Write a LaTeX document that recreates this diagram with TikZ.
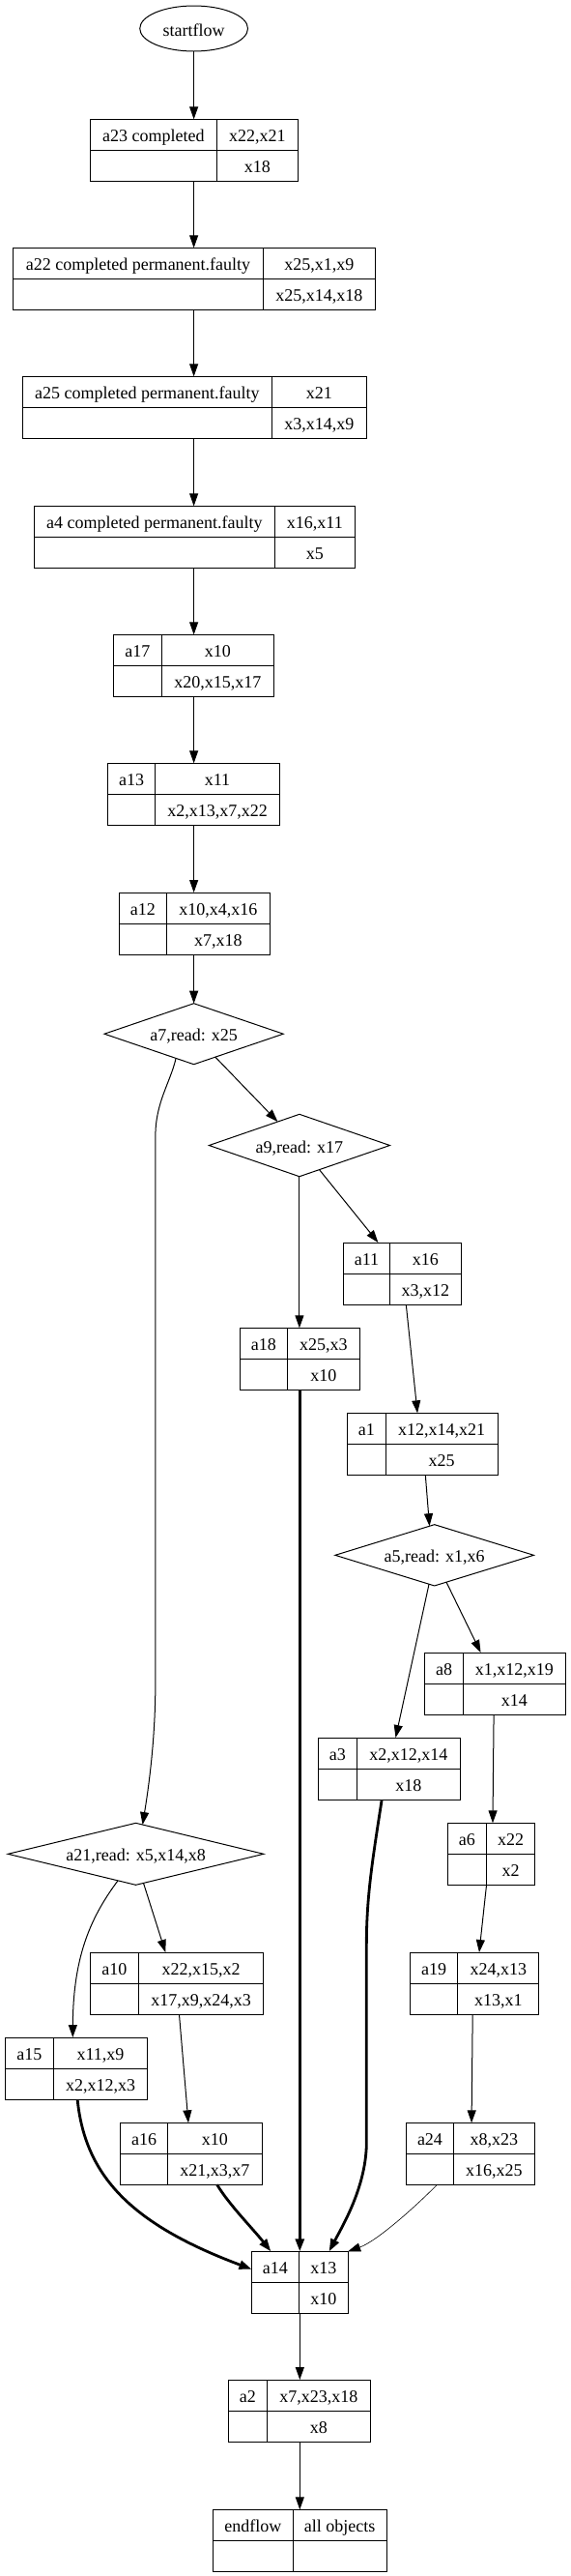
\documentclass[tikz,border=0pt]{standalone}
\usepackage{fontspec}
\setmainfont{Liberation Serif}
\usetikzlibrary{shapes.geometric,arrows.meta,calc}
\tikzset{
  recbox/.style={draw, line width=1pt, inner sep=0pt, outer sep=0pt},
  recline/.style={line width=1pt},
  txtfont/.style={font=\fontsize{18}{21}\selectfont, text height=15pt, text depth=0pt},
  celltext/.style={inner sep=0pt, txtfont},
  decision/.style={draw, diamond, line width=1pt, inner sep=0pt, outer sep=0pt, txtfont},
  terminal/.style={draw, ellipse, line width=1pt, inner sep=0pt, outer sep=0pt, txtfont},
  flowedge/.style={line width=1pt, -{Triangle[length=13pt,width=9pt]}},
  boldedge/.style={flowedge, line width=2.8pt},
  thinedge/.style={flowedge, line width=0.6pt}
}
% #1 name, #2 left, #3 right, #4 divider x, #5 top, #6 bottom, #7 tl, #8 tr, #9 br
\newcommand{\recnode}[9]{%
  \node[recbox, minimum width={((#3)-(#2))*1.129}, minimum height={(#6)-(#5)}] (#1) at ({((#2)+(#3))/2},{((#5)+(#6))/2}) {};
  \draw[recline] (#4,#5) -- (#4,#6);
  \draw[recline] (#2,{((#5)+(#6))/2}) -- (#3,{((#5)+(#6))/2});
  \node[celltext] (#1-tl) at ({((#2)+(#4))/2},{(3*(#5)+(#6))/4}) {#7};
  \node[celltext] (#1-tr) at ({((#4)+(#3))/2},{(3*(#5)+(#6))/4}) {#8};
  \node[celltext] (#1-br) at ({((#4)+(#3))/2},{((#5)+3*(#6))/4}) {#9};
}
\begin{document}
\begin{tikzpicture}[x=1.129pt, y=-1pt]
\useasboundingbox (0,0) rectangle (522.6,2664);

\node[terminal, minimum width=111.8pt, minimum height=47pt] (start) at (177.7,29.5) {startflow};

\recnode{a23}{82.7}{273.3}{198.7}{123.3}{187.3}{a23 completed}{x22,x21}{x18}
\recnode{a22}{12}{344}{241.3}{256.3}{320.3}{a22 completed permanent.faulty}{x25,x1,x9}{x25,x14,x18}
\recnode{a25}{20.7}{336}{249.3}{389.3}{453.3}{a25 completed permanent.faulty}{x21}{x3,x14,x9}
\recnode{a4}{31.3}{325.3}{252}{523.3}{587.3}{a4 completed permanent.faulty}{x16,x11}{x5}
\recnode{a17}{104}{251}{148.3}{656.3}{720.3}{a17}{x10}{x20,x15,x17}
\recnode{a13}{98.7}{256.3}{142.3}{789.3}{853.3}{a13}{x11}{x2,x13,x7,x22}
\recnode{a12}{109.3}{247.3}{152.7}{923}{987}{a12}{x10,x4,x16}{x7,x18}

\node[decision, shape aspect=2.9, minimum width=185.2pt, minimum height=63pt] (a7) at (177.7,1069.2) {a7,read: x25};
\node[decision, shape aspect=2.9, minimum width=187.1pt, minimum height=64.4pt] (a9) at (274.5,1184.5) {a9,read: x17};

\recnode{a11}{315}{423}{357.3}{1285}{1349.3}{a11}{x16}{x3,x12}
\recnode{a18}{220}{330}{263.3}{1373.3}{1437.3}{a18}{x25,x3}{x10}
\recnode{a1}{318.3}{456.3}{353.7}{1461.3}{1525.3}{a1}{x12,x14,x21}{x25}

\node[decision, shape aspect=3.2, minimum width=205.5pt, minimum height=63.3pt] (a5) at (398.3,1608.3) {a5,read: x1,x6};

\recnode{a8}{389.3}{518.3}{424.7}{1709}{1773}{a8}{x1,x12,x19}{x14}
\recnode{a3}{291.7}{422}{327.3}{1797}{1861.3}{a3}{x2,x12,x14}{x18}
\recnode{a6}{410.3}{490.3}{446}{1885.3}{1949.3}{a6}{x22}{x2}

\node[decision, shape aspect=4.1, minimum width=264.6pt, minimum height=64pt] (a21) at (124.5,1917.3) {a21,read: x5,x14,x8};

\recnode{a10}{82.7}{241.7}{127}{2019}{2083.3}{a10}{x22,x15,x2}{x17,x9,x24,x3}
\recnode{a19}{376}{494}{419.7}{2019}{2083.3}{a19}{x24,x13}{x13,x1}
\recnode{a15}{4.7}{135}{49.3}{2107}{2171.3}{a15}{x11,x9}{x2,x12,x3}
\recnode{a16}{110.3}{240.3}{153.7}{2195.3}{2259.3}{a16}{x10}{x21,x3,x7}
\recnode{a24}{372.3}{490}{416}{2195.3}{2259.3}{a24}{x8,x23}{x16,x25}
\recnode{a14}{230.7}{319}{274}{2328.3}{2392.3}{a14}{x13}{x10}
\recnode{a2}{209.3}{339.3}{245}{2461}{2525.3}{a2}{x7,x23,x18}{x8}
\recnode{endf}{195}{354.3}{268.7}{2595.3}{2659.3}{endflow}{all objects}{}

% main chain
\draw[flowedge] (start.south) -- (start.south |- a23.north);
\draw[flowedge] (start.south |- a23.south) -- (start.south |- a22.north);
\draw[flowedge] (start.south |- a22.south) -- (start.south |- a25.north);
\draw[flowedge] (start.south |- a25.south) -- (start.south |- a4.north);
\draw[flowedge] (start.south |- a4.south) -- (start.south |- a17.north);
\draw[flowedge] (start.south |- a17.south) -- (start.south |- a13.north);
\draw[flowedge] (start.south |- a13.south) -- (start.south |- a12.north);
\draw[flowedge] (a7.north |- a12.south) -- (a7.north);

% branches
\draw[flowedge] ($(a7.south)!0.2!(a7.west)$) .. controls (156,1120) and (142.5,1140) .. (142.5,1175) -- (142.5,1740) .. controls (142.5,1800) and (136,1850) .. ($(a21.north)!0.053!(a21.east)$);
\draw[flowedge] ($(a7.south)!0.24!(a7.east)$) -- ($(a9.north)!0.24!(a9.west)$);
\draw[flowedge] (a9.south) -- (a9.south |- a18.north);
\draw[flowedge] ($(a9.south)!0.22!(a9.east)$) -- ($(a11.north west)+(31.7,0)$);
\draw[boldedge] (a14.north |- a18.south) -- (a14.north);
\draw[flowedge] ($(a11.south west)+(57.3,0)$) -- ($(a1.north west)+(64.4,0)$);
\draw[flowedge] ($(a1.south west)+(71.7,0)$) -- ($(a5.north)!0.05!(a5.west)$);
\draw[flowedge] ($(a5.south)!0.055!(a5.west)$) -- ($(a3.north west)+(71,0)$);
\draw[flowedge] ($(a5.south)!0.12!(a5.east)$) -- ($(a8.north west)+(51.4,0)$);
\draw[flowedge] ($(a8.south west)+(63.4,0)$) -- ($(a6.north west)+(41.4,0)$);
\draw[boldedge] ($(a3.south west)+(58.3,0)$) .. controls (342,1920) and (336,1960) .. (336,2010) -- (336,2215) .. controls (336,2260) and (315,2300) .. ($(a14.north west)+(71,0)$);
\draw[flowedge] ($(a21.south)!0.14!(a21.west)$) .. controls (85,1980) and (67,2020) .. ($(a15.north west)+(62,0)$);
\draw[flowedge] ($(a21.south)!0.06!(a21.east)$) -- ($(a10.north west)+(69,0)$);
\draw[flowedge] ($(a6.south west)+(35.7,0)$) -- ($(a19.north west)+(63.3,0)$);
\draw[flowedge] ($(a10.south west)+(81.6,0)$) -- ($(a16.north west)+(62.4,0)$);
\draw[flowedge] ($(a19.south west)+(57.3,0)$) -- ($(a24.north west)+(60,0)$);
\draw[boldedge] ($(a15.south west)+(66.3,0)$) .. controls (78,2250) and (120,2300) .. ($(a14.north west)+(0,18.4)$);
\draw[boldedge] ($(a16.south west)+(88.7,0)$) .. controls (210,2280) and (232,2305) .. ($(a14.north west)+(17.6,0)$);
\draw[thinedge] ($(a24.south west)+(28.4,0)$) .. controls (380,2283) and (345,2318) .. (a14.north east);
\draw[flowedge] (a14.south) -- (a14.south |- a2.north);
\draw[flowedge] (a14.south |- a2.south) -- (a14.south |- endf.north);
\end{tikzpicture}
\end{document}
